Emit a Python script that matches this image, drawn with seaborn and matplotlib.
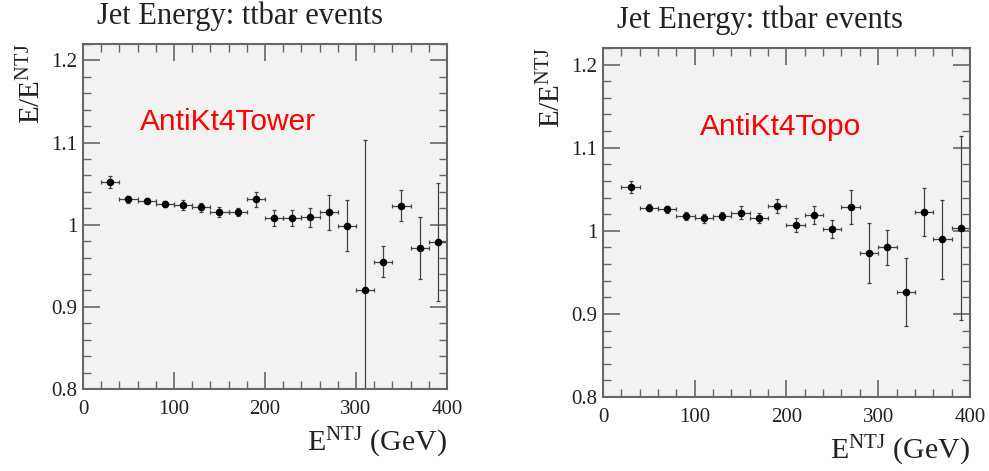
import numpy as np
import pandas as pd
import matplotlib
matplotlib.use("Agg")
import matplotlib.pyplot as plt
from matplotlib.ticker import MultipleLocator
import seaborn as sns

# bin centres (GeV), 20 GeV wide bins
e_ntj = [30, 50, 70, 90, 110, 130, 150, 170, 190, 210,
         230, 250, 270, 290, 310, 330, 350, 370, 390]
bin_halfwidth = 10

# AntiKt4Tower response and errors
tower_ratio = [1.052, 1.031, 1.029, 1.025, 1.024, 1.021, 1.015, 1.015, 1.031, 1.0085,
               1.008, 1.009, 1.015, 0.999, 0.920, 0.955, 1.023, 0.9715, 0.979]
tower_err = [0.0075, 0.004, 0.003, 0.004, 0.0055, 0.006, 0.006, 0.005, 0.009, 0.0095,
             0.0095, 0.0115, 0.0215, 0.031, 0.183, 0.0187, 0.019, 0.038, 0.0717]

# AntiKt4Topo response and errors
topo_ratio = [1.0525, 1.028, 1.026, 1.0176, 1.015, 1.018, 1.022, 1.0156, 1.0296, 1.007,
              1.019, 1.002, 1.029, 0.973, 0.980, 0.926, 1.023, 0.9896, 1.0036]
topo_err = [0.0075, 0.004, 0.004, 0.005, 0.005, 0.005, 0.008, 0.006, 0.0084, 0.0084,
            0.0104, 0.011, 0.0204, 0.036, 0.0214, 0.041, 0.029, 0.0477, 0.111]

panels = [("AntiKt4Tower", tower_ratio, tower_err),
          ("AntiKt4Topo", topo_ratio, topo_err)]

sns.set_style("ticks", {"axes.facecolor": "#f2f2f2", "axes.edgecolor": "#666666"})
plt.rcParams["font.family"] = ["Liberation Serif", "DejaVu Serif"]
plt.rcParams["mathtext.fontset"] = "custom"
plt.rcParams["mathtext.rm"] = "Liberation Serif"
plt.rcParams["mathtext.it"] = "Liberation Serif"

fig = plt.figure(figsize=(9.89, 4.71), dpi=100)
axes = [fig.add_axes([0.0839, 0.1741, 0.368, 0.7325]),
        fig.add_axes([0.6097, 0.1571, 0.371, 0.741])]
label_pos = [(140, 122), (700, 127)]
title_pos = [(240, 16), (760, 20)]

for ax, (name, ratio, err), (lx, ly), (tx, ty) in zip(axes, panels, label_pos, title_pos):
    df = pd.DataFrame({"E": e_ntj, "ratio": ratio, "err": err})
    ax.errorbar(df["E"], df["ratio"], xerr=bin_halfwidth, yerr=df["err"], fmt="none",
                ecolor="#444444", elinewidth=0.9, capsize=1.5, capthick=0.9, zorder=2)
    sns.scatterplot(data=df, x="E", y="ratio", ax=ax, color="black", s=30,
                    edgecolor="black", linewidth=0, zorder=3, legend=False)
    ax.set_xlim(0, 400)
    ax.set_ylim(0.8, 1.22)
    ax.xaxis.set_major_locator(MultipleLocator(100))
    ax.xaxis.set_minor_locator(MultipleLocator(20))
    ax.yaxis.set_minor_locator(MultipleLocator(0.02))
    ax.set_yticks([0.8, 0.9, 1.0, 1.1, 1.2])
    ax.set_yticklabels(["0.8", "0.9", "1", "1.1", "1.2"])
    ax.tick_params(which="both", direction="in", top=True, right=True,
                   color="#666666", labelsize=15, labelcolor="#222222")
    ax.tick_params(which="major", length=12, width=1.2)
    ax.tick_params(which="minor", length=6, width=1.0)
    ax.tick_params(axis="x", which="major", pad=8)
    ax.tick_params(axis="y", which="major", pad=4)
    for sp in ax.spines.values():
        sp.set_linewidth(1.5)
    ax.set_xlabel(r"E$^{\mathrm{NTJ}}$ (GeV)", fontsize=21.5, loc="right",
                  color="#222222", labelpad=5)
    ax.set_ylabel(r"E/E$^{\mathrm{NTJ}}$", fontsize=21, loc="top", color="#222222")
    fig.text(tx / 989, 1 - ty / 471, "Jet Energy: ttbar events", fontsize=22,
             color="#222222", ha="center", va="center")
    fig.text(lx / 989, 1 - ly / 471, name, color="red", fontsize=21.5,
             family="Liberation Sans", va="center", ha="left")

fig.savefig("out.png", dpi=100)
